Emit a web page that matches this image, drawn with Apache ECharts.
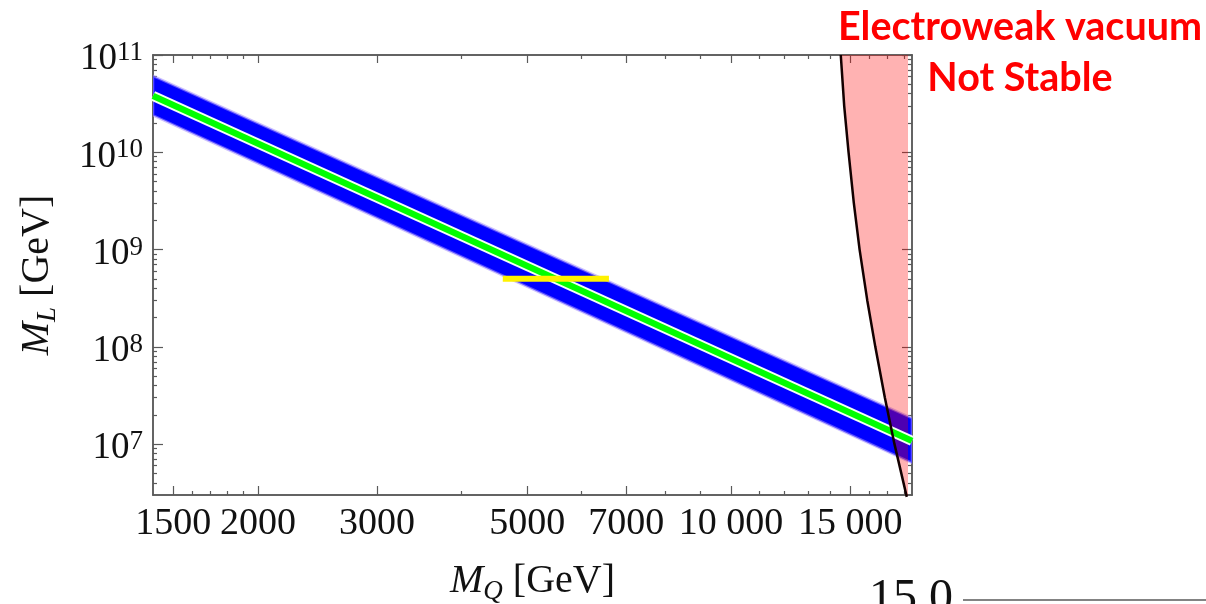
<!DOCTYPE html>
<html lang="en">
<head>
<meta charset="utf-8">
<title>M_L vs M_Q</title>
<script src="https://cdn.jsdelivr.net/npm/echarts@6.0.0/dist/echarts.min.js"></script>
<style>
  html, body { margin: 0; padding: 0; background: #fff; }
  #main { width: 1206px; height: 604px; }
</style>
</head>
<body>
<div id="main"></div>
<script>
// band (M_Q, M_L in GeV) at the left and right frame edges
var bandMQ     = [1400, 18500];
var bandUpper  = [6.1e10, 1.85e7];
var bandCenter = [3.8e10, 1.08e7];
var bandLower  = [2.4e10, 6.4e6];

// yellow marker
var markMQ = [4600, 6600];
var markML = [5e8, 5e8];

// vacuum stability boundary (black curve), shaded up to the right edge
var stabML = [1e11, 3e10, 1e10, 3e9, 1e9, 3e8, 1e8, 3e7, 1e7, 2.87e6];
var stabMQ = [14520, 14690, 14910, 15180, 15480, 15890, 16330, 16870, 17430, 18175];
var stabEdgeMQ = 18250;

// axes
var xRange = [1400, 18500];
var yRange = [3e6, 1e11];
var xMajor = [1500, 2000, 3000, 5000, 7000, 10000, 15000];
var xMinor = [1600, 1700, 1800, 1900, 4000, 6000, 8000, 9000, 11000, 12000, 13000, 14000, 16000, 17000, 18000];
var yMajor = [1e7, 1e8, 1e9, 1e10, 1e11];
var yMinorMant = [2, 3, 4, 5, 6, 7, 8, 9];
var yDecades = [1e6, 1e7, 1e8, 1e9, 1e10];

var LG = function (v) { return Math.log10(v); };
var yMinor = [];
yDecades.forEach(function (d) {
    yMinorMant.forEach(function (m) {
        if (m * d > yRange[0] && m * d < yRange[1]) yMinor.push(m * d);
    });
});

var SERIF = '"Liberation Serif", "DejaVu Serif", serif';
var AXIS_COLOR = '#5a5a5a';

function xLabel(v) {
    var n = Math.round(Math.pow(10, v));
    var s = String(n);
    if (n >= 10000) s = s.slice(0, s.length - 3) + ' ' + s.slice(-3);
    return s;
}
function yLabel(v) {
    return '{b|10}{s|' + Math.round(v) + '}';
}

function makeX(pos, ticks, len, labels) {
    return {
        type: 'value', position: pos, min: LG(xRange[0]), max: LG(xRange[1]),
        splitLine: { show: false },
        axisLine: { show: true, lineStyle: { color: AXIS_COLOR, width: 1.5 } },
        axisTick: { show: true, inside: true, length: len, customValues: ticks.map(LG),
                    lineStyle: { color: AXIS_COLOR, width: 1.2 } },
        axisLabel: labels ? {
            show: true, customValues: xMajor.map(LG), formatter: xLabel, margin: 10,
            fontFamily: SERIF, fontSize: 38, color: '#111', hideOverlap: false
        } : { show: false }
    };
}
function makeY(pos, ticks, len, labels) {
    return {
        type: 'value', position: pos, min: LG(yRange[0]), max: LG(yRange[1]),
        splitLine: { show: false },
        axisLine: { show: true, lineStyle: { color: AXIS_COLOR, width: 1.5 } },
        axisTick: { show: true, inside: true, length: len, customValues: ticks.map(LG),
                    lineStyle: { color: AXIS_COLOR, width: 1.2 } },
        axisLabel: labels ? {
            show: true, customValues: yMajor.map(LG), formatter: yLabel, margin: 10,
            color: '#111', hideOverlap: false, padding: [9, 0, 0, 0],
            rich: {
                b: { fontFamily: SERIF, fontSize: 37, lineHeight: 40, color: '#111' },
                s: { fontFamily: SERIF, fontSize: 27, lineHeight: 30, verticalAlign: 'top', color: '#111' }
            }
        } : { show: false }
    };
}

var nameStyle = {
    fontFamily: SERIF, fontSize: 40, color: '#111', lineHeight: 48,
    rich: {
        i: { fontFamily: SERIF, fontStyle: 'italic', fontSize: 40, lineHeight: 48, color: '#111' },
        sub: { fontFamily: SERIF, fontStyle: 'italic', fontSize: 27, lineHeight: 26, verticalAlign: 'bottom', color: '#111' }
    }
};

var xAxes = [
    makeX('bottom', xMajor, 9, true),
    makeX('bottom', xMinor, 4, false),
    makeX('top', xMajor, 8, false),
    makeX('top', xMinor, 4, false)
];
xAxes[0].name = '{i|M}{sub|Q} [GeV]';
xAxes[0].nameLocation = 'middle';
xAxes[0].nameGap = 62;
xAxes[0].nameTextStyle = nameStyle;

var yAxes = [
    makeY('left', yMajor, 10, true),
    makeY('left', yMinor, 4, false),
    makeY('right', yMajor, 10, false),
    makeY('right', yMinor, 4, false)
];
yAxes[0].name = '{i|M}{sub|L} [GeV]';
yAxes[0].nameLocation = 'middle';
yAxes[0].nameRotate = 90;
yAxes[0].nameGap = 92;
yAxes[0].nameTextStyle = nameStyle;

function polyBand(params, api) {
    if (params.dataIndexInside !== 0) return null;
    var top = [], bot = [];
    for (var i = 0; i < params.dataInsideLength; i++) {
        top.push(api.coord([api.value(0, i), api.value(1, i)]));
        bot.unshift(api.coord([api.value(0, i), api.value(2, i)]));
    }
    return { type: 'polygon', shape: { points: top.concat(bot) },
             style: { fill: '#0000ff', stroke: 'rgba(160,140,255,0.55)', lineWidth: 2.5 } };
}
function polyStab(params, api) {
    if (params.dataIndexInside !== 0) return null;
    var pts = [];
    var n = params.dataInsideLength;
    for (var i = 0; i < n; i++) pts.push(api.coord([api.value(0, i), api.value(1, i)]));
    pts.push(api.coord([LG(stabEdgeMQ), api.value(1, n - 1)]));
    pts.push(api.coord([LG(stabEdgeMQ), api.value(1, 0)]));
    return { type: 'polygon', shape: { points: pts }, style: { fill: 'rgba(255,0,0,0.3)' } };
}

var bandData = bandMQ.map(function (m, i) { return [LG(m), LG(bandUpper[i]), LG(bandLower[i])]; });
var centerData = bandMQ.map(function (m, i) { return [LG(m), LG(bandCenter[i])]; });
var markData = markMQ.map(function (m, i) { return [LG(m), LG(markML[i])]; });
var stabData = stabMQ.map(function (m, i) { return [LG(m), LG(stabML[i])]; });

var myChart = echarts.init(document.getElementById('main'));
var option = {
    animation: false,
    backgroundColor: '#fff',
    grid: { left: 153, right: 294, top: 55, bottom: 109, containLabel: false, outerBoundsMode: 'none' },
    xAxis: xAxes,
    yAxis: yAxes,
    series: [
        { type: 'custom', name: 'band', renderItem: polyBand, data: bandData, clip: true },
        { type: 'line', data: centerData, showSymbol: false, lineStyle: { color: '#f4fff4', width: 10 } },
        { type: 'line', data: centerData, showSymbol: false, lineStyle: { color: '#00ff00', width: 6.5 } },
        { type: 'line', data: markData, showSymbol: false, lineStyle: { color: '#fff200', width: 6 } },
        { type: 'custom', name: 'unstable', renderItem: polyStab, data: stabData, clip: true },
        { type: 'line', data: stabData, showSymbol: false, clip: false,
          lineStyle: { color: '#140000', width: 2.5 } }
    ],
    graphic: [
        { type: 'text', x: 1020, y: 27, z: 100,
          style: { text: 'Electroweak vacuum', fill: '#ff0000', fontFamily: 'Lato', fontWeight: 'bold',
                   fontSize: 39.5, align: 'center', verticalAlign: 'middle' } },
        { type: 'text', x: 1020, y: 78, z: 100,
          style: { text: 'Not Stable', fill: '#ff0000', fontFamily: 'Lato', fontWeight: 'bold',
                   fontSize: 39.5, align: 'center', verticalAlign: 'middle' } },
        { type: 'text', x: 869, y: 575, z: 100,
          style: { text: '15.0', fill: '#111', fontFamily: SERIF, fontSize: 48, align: 'left', verticalAlign: 'top' } },
        { type: 'line', z: 100, shape: { x1: 963, y1: 600, x2: 1206, y2: 600 },
          style: { stroke: AXIS_COLOR, lineWidth: 1.5 } }
    ]
};
myChart.setOption(option);
window.onresize = function () { myChart.resize(); };
</script>
</body>
</html>
